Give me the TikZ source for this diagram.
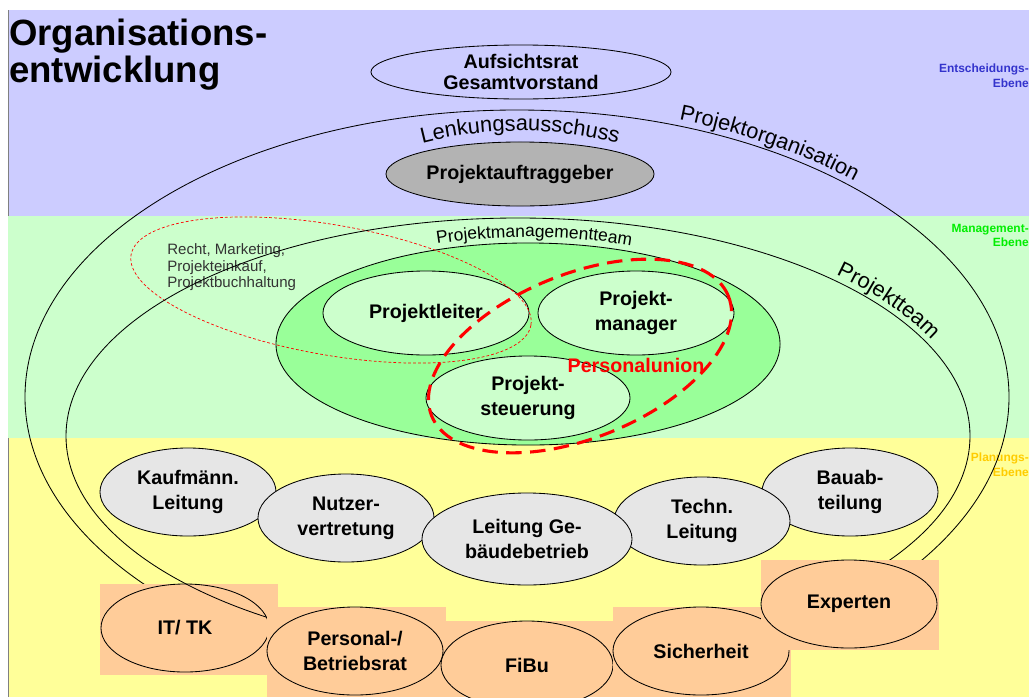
\documentclass[tikz,border=0pt]{standalone}
\usepackage{fontspec}
\setmainfont{Liberation Sans}
\usetikzlibrary{shapes.geometric,decorations.text}

\definecolor{bandblue}{HTML}{CCCCFF}
\definecolor{bandgreen}{HTML}{CCFFCC}
\definecolor{bandyellow}{HTML}{FFFF99}
\definecolor{pmgreen}{HTML}{99FF99}
\definecolor{planfill}{HTML}{E6E6E6}
\definecolor{sponsorgrey}{HTML}{B3B3B3}
\definecolor{extfill}{HTML}{FFCC99}
\definecolor{lblblue}{HTML}{3333CC}
\definecolor{lblgreen}{HTML}{00EE00}
\definecolor{lblorange}{HTML}{FFCC00}
\definecolor{stafftext}{HTML}{333333}

\newcommand\curvefont{\fontsize{15.5}{18}\selectfont}
\newcommand\pmfont{\fontsize{12.4}{14}\selectfont}

\tikzset{
  orgline/.style={draw=black, line width=0.6pt},
  levelbox/.style={ellipse, orgline, inner sep=0pt, align=center,
    font=\bfseries\fontsize{14}{17.5}\selectfont},
  planbox/.style={levelbox, fill=planfill, minimum width=4.4cm, minimum height=2.2cm},
  extbox/.style={levelbox, fill=extfill, minimum width=4.4cm, minimum height=2.2cm},
  pmbox/.style={levelbox, fill=bandgreen, minimum height=2.1cm},
  levellabel/.style={anchor=north east, inner sep=0pt, align=right,
    font=\bfseries\fontsize{8.5}{10}\selectfont},
  titletext/.style={anchor=base west, inner sep=0pt,
    font=\bfseries\fontsize{26}{30}\selectfont},
  unionline/.style={draw=red, line width=2.2pt, dash pattern=on 11pt off 6pt},
  staffline/.style={draw=red, line width=0.5pt, dash pattern=on 2pt off 1.5pt},
}

\begin{document}
\begin{tikzpicture}[x=0.025cm, y=-0.025cm]
\useasboundingbox (0,0) rectangle (1029,697);

% Ebenen
\fill[white] (0,0) rectangle (1029,697);
\fill[bandblue] (8,10) rectangle (1029,215.5);
\fill[bandgreen] (8,215.5) rectangle (1029,438);
\fill[bandyellow] (8,438) rectangle (1029,697);
\draw[gray, very thin] (8,10) -- (8,215.5) (8,438) -- (8,697);

\node[titletext] (title1) at (9,45) {Organisations-};
\node[titletext] (title2) at (9,82) {entwicklung};

\node[levellabel, text=lblblue] (lbldecide) at (1029,64) {Entscheidungs-\\Ebene};
\node[levellabel, text=lblgreen] (lblmanage) at (1029,224) {Management-\\Ebene};
\node[levellabel, text=lblorange] (lblplan) at (1029,453) {Planungs-\\Ebene};

% Projektorganisation
\draw[orgline] (517,397) ellipse [x radius=492, y radius=287];
\path[decorate, decoration={text along path, text={|\curvefont|Projektorganisation}}]
  (517,397) ++(-71:498 and 293) arc [start angle=-71, end angle=-30, x radius=498, y radius=293];

\node[levelbox, minimum width=7.5cm, minimum height=1.35cm,
  font=\bfseries\fontsize{14}{15.5}\selectfont] (board) at (521,72) {Aufsichtsrat\\Gesamtvorstand};
\path[decorate, decoration={text along path, text align=center, text={|\curvefont|Lenkungsausschuss}}]
  (416,145) .. controls (485,126) and (555,126) .. (624,145);
\node[levelbox, fill=sponsorgrey, minimum width=6.7cm, minimum height=1.6cm] (sponsor) at (520,174) {Projektauftraggeber};

% Projektmanagementteam
\node[ellipse, orgline, fill=pmgreen, inner sep=0pt, minimum width=12.6cm, minimum height=5.05cm] (pmteam) at (528,344) {};
\path[decorate, decoration={text along path, text align=center, text={|\pmfont|Projektmanagementteam}}]
  (528,344) ++(-113:258 and 107) arc [start angle=-113, end angle=-64, x radius=258, y radius=107];
\node[pmbox, minimum width=5.15cm] (leiter) at (426,313) {Projektleiter};
\node[pmbox, minimum width=4.9cm] (manager) at (636,313) {Projekt-\\manager};
\node[pmbox, minimum width=5.1cm] (steuerung) at (528,398) {Projekt-\\steuerung};

\draw[staffline, rotate around={-10:(331,290)}] (331,290) ellipse [x radius=203, y radius=65];
\node[anchor=north west, inner sep=0pt, align=left, text=stafftext,
  font=\fontsize{10.7}{11.7}\selectfont] (staff) at (167,243.5) {Recht, Marketing,\\Projekteinkauf,\\Projektbuchhaltung};
\draw[unionline, rotate around={22:(580,356)}] (580,356) ellipse [x radius=160, y radius=82];
\node[inner sep=0pt, text=red, font=\bfseries\fontsize{14}{17}\selectfont] (union) at (636,365) {Personalunion};

% Projektteam
\fill[extfill] (100,584) rectangle (278,675);
\node[extbox, minimum width=4.2cm] (ittk) at (185,628) {IT/ TK};
\draw[orgline] (518,436) ellipse [x radius=452, y radius=218];
\path[decorate, decoration={text along path, text={|\curvefont|Projektteam}}]
  (518,436) ++(-46:458 and 224) arc [start angle=-46, end angle=-15, x radius=458, y radius=224];

\fill[extfill] (267,607) rectangle (446,697);
\node[extbox] (personal) at (355,651) {Personal-/\\Betriebsrat};
\fill[extfill] (446,621) rectangle (613,697);
\node[extbox, minimum width=4.3cm] (fibu) at (527,665) {FiBu};
\fill[extfill] (613,607) rectangle (791,697);
\node[extbox] (sicherheit) at (701,651) {Sicherheit};
\fill[extfill] (761,560) rectangle (939,650);
\node[extbox] (experten) at (849,604) {Experten};

% Planungsebene
\node[planbox] (kaufm) at (188,492) {Kaufmänn.\\Leitung};
\node[planbox] (bauab) at (850,492) {Bauab-\\teilung};
\node[planbox] (nutzer) at (346,518) {Nutzer-\\vertretung};
\node[planbox] (techn) at (702,521) {Techn.\\Leitung};
\node[planbox, minimum width=5.25cm, minimum height=2.3cm] (gebaeude) at (527,539) {Leitung Ge-\\bäudebetrieb};
\end{tikzpicture}
\end{document}
